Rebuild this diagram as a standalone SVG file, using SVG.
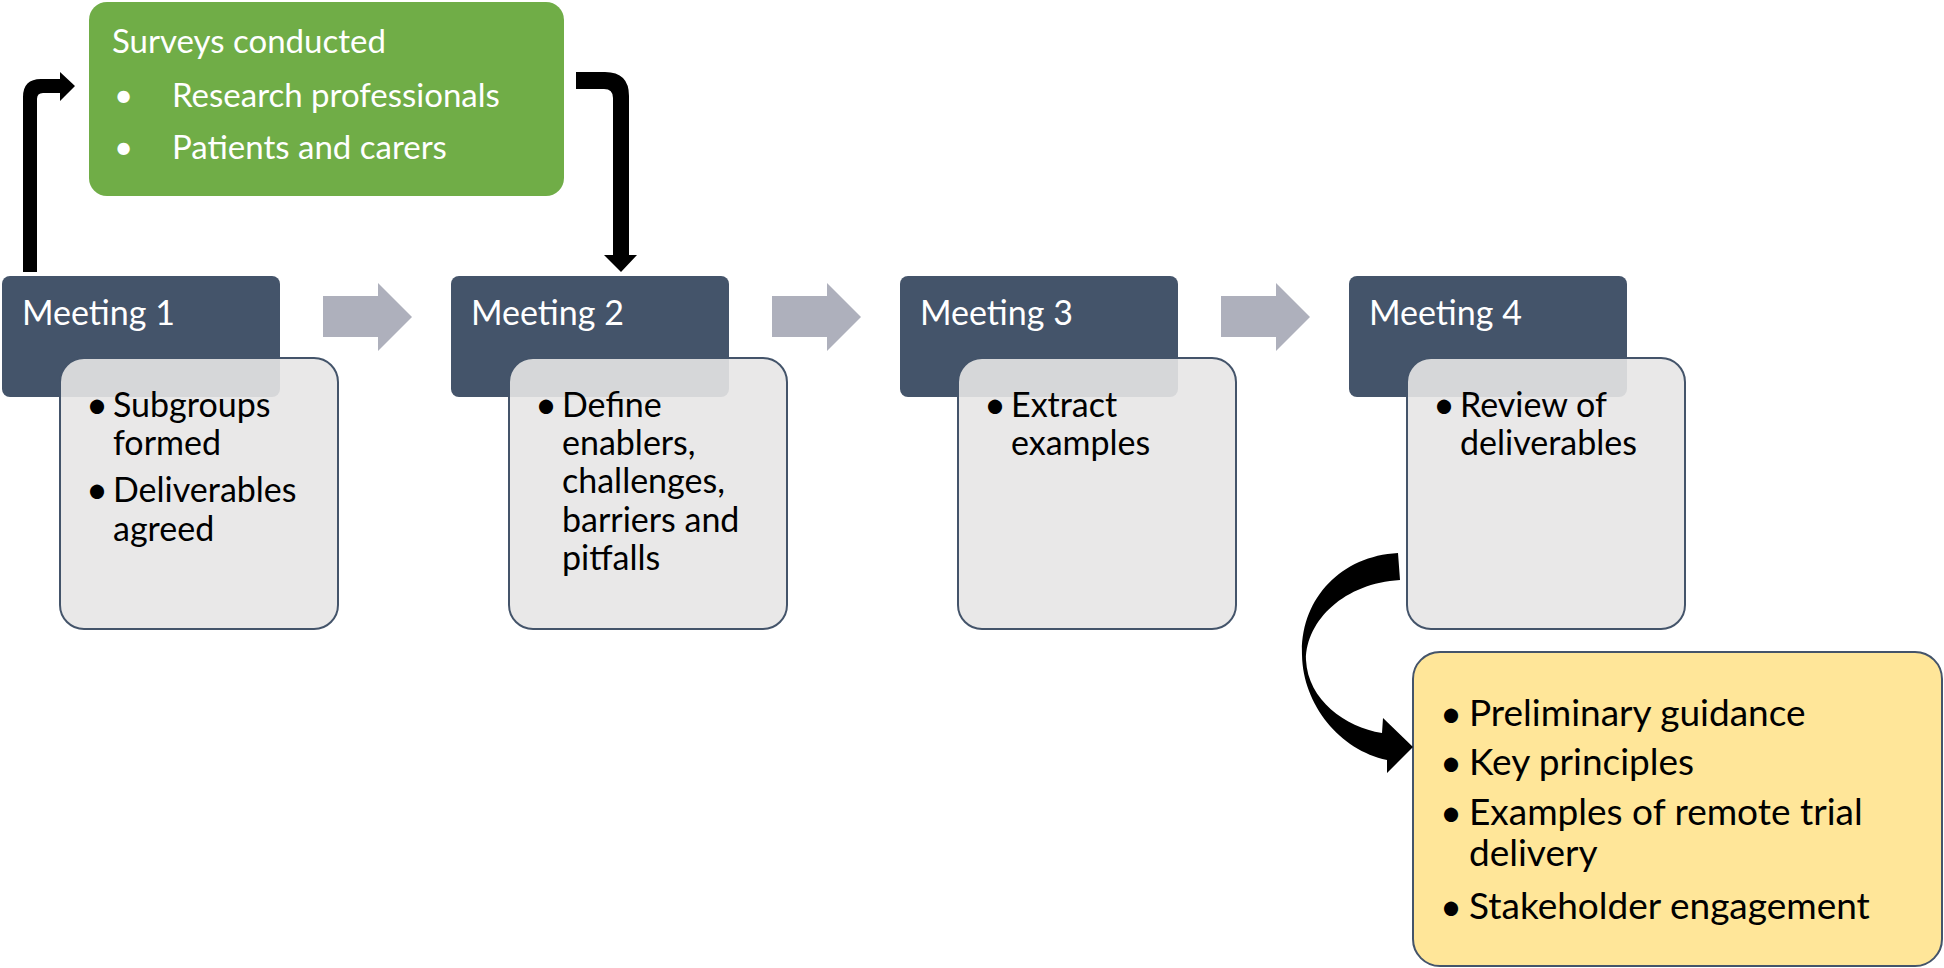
<svg xmlns="http://www.w3.org/2000/svg" width="1944" height="968" viewBox="0 0 1944 968">
<style>
.meet{fill:#44546A;}
.content{fill:#E7E6E6;fill-opacity:0.9;stroke:#44546A;stroke-width:2;}
.step{fill:#AEB0BC;}
.black{fill:#000000;}
.t{font-family:Lato,"Liberation Sans",sans-serif;}
.title{font-size:34px;fill:#FFFFFF;}
.body{font-size:34px;fill:#000000;}
.green{font-size:33px;fill:#FFFFFF;}
.yel{font-size:37px;fill:#000000;}
.b{font-size:38px;}
</style>
<rect width="1944" height="968" fill="#FFFFFF"/>
<g id="surveys">
<rect x="89" y="2" width="475" height="194" rx="18" fill="#70AD47"/>
<text class="t green" x="112" y="53">Surveys conducted</text>
<text class="t green" x="114" y="107">•</text>
<text class="t green" x="172" y="107">Research professionals</text>
<text class="t green" x="114" y="159">•</text>
<text class="t green" x="172" y="159">Patients and carers</text>
</g>
<g id="meeting1">
<rect class="meet" x="2" y="276" width="278" height="121" rx="8"/>
<text class="t title" x="22" y="325">Meeting 1</text>
<rect class="content" x="60" y="358" width="278" height="271" rx="24"/>
<text class="t body b" x="86" y="418">•</text>
<text class="t body" x="113" y="417">Subgroups</text>
<text class="t body" x="113" y="455">formed</text>
<text class="t body b" x="86" y="503">•</text>
<text class="t body" x="113" y="502">Deliverables</text>
<text class="t body" x="113" y="541">agreed</text>
</g>
<g id="meeting2">
<rect class="meet" x="451" y="276" width="278" height="121" rx="8"/>
<text class="t title" x="471" y="325">Meeting 2</text>
<rect class="content" x="509" y="358" width="278" height="271" rx="24"/>
<text class="t body b" x="535" y="418">•</text>
<text class="t body" x="562" y="417">Define</text>
<text class="t body" x="562" y="455">enablers,</text>
<text class="t body" x="562" y="493">challenges,</text>
<text class="t body" x="562" y="532">barriers and</text>
<text class="t body" x="562" y="570">pitfalls</text>
</g>
<g id="meeting3">
<rect class="meet" x="900" y="276" width="278" height="121" rx="8"/>
<text class="t title" x="920" y="325">Meeting 3</text>
<rect class="content" x="958" y="358" width="278" height="271" rx="24"/>
<text class="t body b" x="984" y="418">•</text>
<text class="t body" x="1011" y="417">Extract</text>
<text class="t body" x="1011" y="455">examples</text>
</g>
<g id="meeting4">
<rect class="meet" x="1349" y="276" width="278" height="121" rx="8"/>
<text class="t title" x="1369" y="325">Meeting 4</text>
<rect class="content" x="1407" y="358" width="278" height="271" rx="24"/>
<text class="t body b" x="1433" y="418">•</text>
<text class="t body" x="1460" y="417">Review of</text>
<text class="t body" x="1460" y="455">deliverables</text>
</g>
<g id="outputs">
<rect x="1413" y="652" width="529" height="314" rx="27" fill="#FFE699" stroke="#44546A" stroke-width="2"/>
<text class="t yel b" x="1440" y="727">•</text>
<text class="t yel" x="1469" y="726">Preliminary guidance</text>
<text class="t yel b" x="1440" y="776">•</text>
<text class="t yel" x="1469" y="775">Key principles</text>
<text class="t yel b" x="1440" y="826">•</text>
<text class="t yel" x="1469" y="825">Examples of remote trial</text>
<text class="t yel" x="1469" y="866">delivery</text>
<text class="t yel b" x="1440" y="920">•</text>
<text class="t yel" x="1469" y="919">Stakeholder engagement</text>
</g>
<g id="connectors">
<path class="step" d="M323,296 L378,296 L378,283 L412,317 L378,351 L378,337 L323,337 Z"/>
<path class="step" d="M772,296 L827,296 L827,283 L861,317 L827,351 L827,337 L772,337 Z"/>
<path class="step" d="M1221,296 L1276,296 L1276,283 L1310,317 L1276,351 L1276,337 L1221,337 Z"/>
<path class="black" d="M23,272 L23,97 Q23,79 41,79 L60,79 L60,72 L75,86 L60,101 L60,93 L43,93 Q37,93 37,99 L37,272 Z"/>
<path class="black" d="M576,72 L605,72 Q629,72 629,96 L629,255 L637,255 L621,272 L604,255 L613,255 L613,98 Q613,89 604,89 L576,89 Z"/>
<path class="black" d="M1398,553 C1340,556 1300,600 1302,655 C1303,705 1340,750 1387,760 L1387,773 L1413,747 L1383,718 L1382,733 C1345,727 1308,700 1306,660 C1306,620 1345,583 1400,580 Z"/>
</g>
</svg>
